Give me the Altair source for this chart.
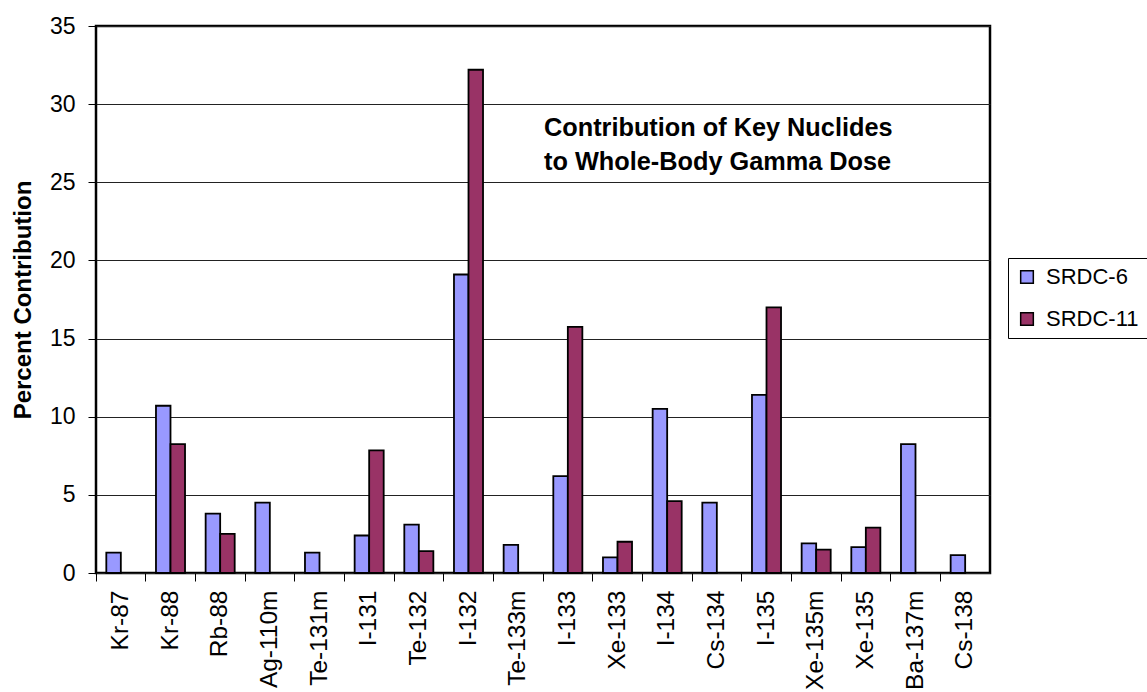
import altair as alt
import pandas as pd

nuclides = ["Kr-87", "Kr-88", "Rb-88", "Ag-110m", "Te-131m", "I-131", "Te-132", "I-132",
            "Te-133m", "I-133", "Xe-133", "I-134", "Cs-134", "I-135", "Xe-135m", "Xe-135",
            "Ba-137m", "Cs-138"]
srdc6 = [1.3, 10.7, 3.8, 4.5, 1.3, 2.4, 3.1, 19.1, 1.8, 6.2, 1.0, 10.5, 4.5, 11.4, 1.9, 1.65, 8.25, 1.15]
srdc11 = [0, 8.25, 2.5, 0, 0, 7.85, 1.4, 32.2, 0, 15.75, 2.0, 4.6, 0, 17.0, 1.5, 2.9, 0, 0]
series = ["SRDC-6", "SRDC-11"]
colors = ["#9999FF", "#993366"]
title_lines = "Contribution of Key Nuclides\nto Whole-Body Gamma Dose"

rows = []
for n, a, b in zip(nuclides, srdc6, srdc11):
    for s, v in zip(series, [a, b]):
        if v > 0:
            rows.append({"Nuclide": n, "Series": s, "Value": v})
df = pd.DataFrame(rows)

FONT = "Liberation Sans"

bars = alt.Chart(df).mark_bar(stroke="black", strokeWidth=1.8).encode(
    x=alt.X("Nuclide:N", sort=nuclides,
            scale=alt.Scale(domain=nuclides, paddingInner=0, paddingOuter=0),
            axis=alt.Axis(title=None, labelAngle=-90, labelAlign="right", labelBaseline="middle",
                          labelFontSize=24.5, labelColor="black", labelFont=FONT,
                          labelPadding=9, tickSize=8, tickColor="black", tickWidth=1,
                          bandPosition=0, domain=False, grid=False)),
    xOffset=alt.XOffset("Series:N", sort=series,
                        scale=alt.Scale(domain=series, paddingInner=0, paddingOuter=0.71)),
    y=alt.Y("Value:Q", scale=alt.Scale(domain=[0, 35], nice=False),
            axis=alt.Axis(title="Percent Contribution", titleFontSize=24, titleFont=FONT,
                          titleFontWeight="bold", titleColor="black", titlePadding=14,
                          values=[0, 5, 10, 15, 20, 25, 30, 35],
                          labelFontSize=23, labelFont=FONT, labelColor="black", labelPadding=13,
                          tickSize=8, tickColor="black", domain=False,
                          grid=True, gridColor="#222222", gridWidth=1)),
    color=alt.Color("Series:N", sort=series,
                    scale=alt.Scale(domain=series, range=colors),
                    legend=alt.Legend(title=None, orient="none", legendX=912, legendY=232,
                                      symbolType="square", symbolSize=160,
                                      symbolStrokeColor="black", symbolStrokeWidth=1.5,
                                      labelFontSize=22, labelFont=FONT, labelColor="black",
                                      labelOffset=8, rowPadding=20, padding=8,
                                      strokeColor="black", fillColor="white")),
)

title_df = pd.DataFrame({"t": [title_lines]})
title = alt.Chart(title_df).mark_text(
    align="left", baseline="middle", fontSize=25.3, fontWeight="bold", font=FONT,
    color="black", lineBreak="\n", lineHeight=34
).encode(text="t:N", x=alt.value(448), y=alt.value(102))

chart = alt.layer(bars, title).properties(
    width=894, height=547,
    padding={"left": 96, "top": 26, "right": 157, "bottom": 119},
    autosize=alt.AutoSizeParams(type="none"),
    background="white",
).configure_view(stroke="black", strokeWidth=2.5)

chart.save("out.html", embed_options={"renderer": "svg", "actions": False})
